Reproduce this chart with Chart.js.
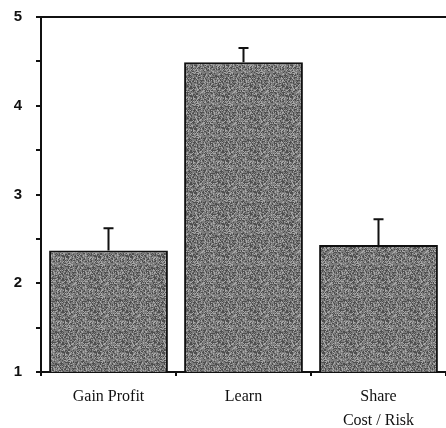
<!DOCTYPE html>
<html>
<head>
<meta charset="utf-8">
<script src="https://cdn.jsdelivr.net/npm/chart.js@4.4.1/dist/chart.umd.min.js"></script>
<style>
  html, body { margin: 0; padding: 0; background: #fff; }
  #wrap { width: 446px; height: 428px; }
</style>
</head>
<body>
<div id="wrap"><canvas id="chart" width="446" height="428"></canvas></div>
<script>
// Daten
const categories = ["Gain Profit", "Learn", ["Share", "Cost / Risk"]];
const means = [2.37, 4.49, 2.43];
const errors = [0.25, 0.16, 0.29];
const yTicks = [1, 2, 3, 4, 5];

// grauer "Raster"-Fuellung wie im gescannten Bild
function makeTexture() {
  const c = document.createElement("canvas");
  c.width = 32; c.height = 32;
  const g = c.getContext("2d");
  g.fillStyle = "#7c7c7c";
  g.fillRect(0, 0, 32, 32);
  let s = 7;
  for (let y = 0; y < 32; y++) {
    for (let x = 0; x < 32; x++) {
      s = (s * 1103515245 + 12345) & 0x7fffffff;
      const v = s % 100;
      if (v < 25) { g.fillStyle = "#4e4e4e"; g.fillRect(x, y, 1, 1); }
      else if (v > 78) { g.fillStyle = "#a8a8a8"; g.fillRect(x, y, 1, 1); }
    }
  }
  return g.createPattern(c, "repeat");
}

// Fehlerbalken + obere Linie
const extras = {
  id: "extras",
  afterDatasetsDraw(chart) {
    const ctx = chart.ctx;
    const y = chart.scales.y;
    const meta = chart.getDatasetMeta(0);
    ctx.save();
    ctx.strokeStyle = "#111";
    ctx.lineWidth = 2;
    meta.data.forEach((bar, i) => {
      const top = y.getPixelForValue(means[i] + errors[i]);
      ctx.beginPath();
      ctx.moveTo(bar.x, bar.y);
      ctx.lineTo(bar.x, top);
      ctx.moveTo(bar.x - 5, top);
      ctx.lineTo(bar.x + 5, top);
      ctx.stroke();
    });
    // Linie bei 5
    const y5 = y.getPixelForValue(5);
    ctx.beginPath();
    ctx.moveTo(chart.chartArea.left - 5, y5);
    ctx.lineTo(chart.width, y5);
    ctx.stroke();
    ctx.restore();
  }
};

new Chart(document.getElementById("chart"), {
  type: "bar",
  data: {
    labels: categories,
    datasets: [{
      data: means,
      backgroundColor: makeTexture(),
      borderColor: "#111",
      borderWidth: 2,
      borderSkipped: false,
      categoryPercentage: 1,
      barPercentage: 0.88
    }]
  },
  options: {
    responsive: false,
    animation: false,
    layout: { padding: { top: 17, right: 0, left: 6, bottom: 0 } },
    plugins: { legend: { display: false }, tooltip: { enabled: false } },
    scales: {
      x: {
        afterFit(axis) { axis.height = 56; },
        grid: { drawOnChartArea: false, color: "#111", tickLength: 4, lineWidth: 2 },
        border: { color: "#111", width: 2 },
        ticks: {
          color: "#111",
          padding: 8,
          font: { family: "Liberation Serif", size: 16, lineHeight: 1.55 }
        }
      },
      y: {
        min: 1,
        max: 5,
        afterBuildTicks(axis) {
          const t = [];
          for (let v = 1; v <= 5; v += 0.5) t.push({ value: v });
          axis.ticks = t;
        },
        afterFit(axis) { axis.width = 35; axis.paddingTop = 0; },
        grid: { drawOnChartArea: false, color: "#111", tickLength: 5, lineWidth: 2 },
        border: { color: "#111", width: 2 },
        ticks: {
          color: "#111",
          padding: 14,
          font: { family: "Liberation Sans", size: 15, weight: "bold", lineHeight: 1 },
          callback: (v) => yTicks.includes(v) ? String(v) : ""
        }
      }
    }
  },
  plugins: [extras]
});
</script>
</body>
</html>
